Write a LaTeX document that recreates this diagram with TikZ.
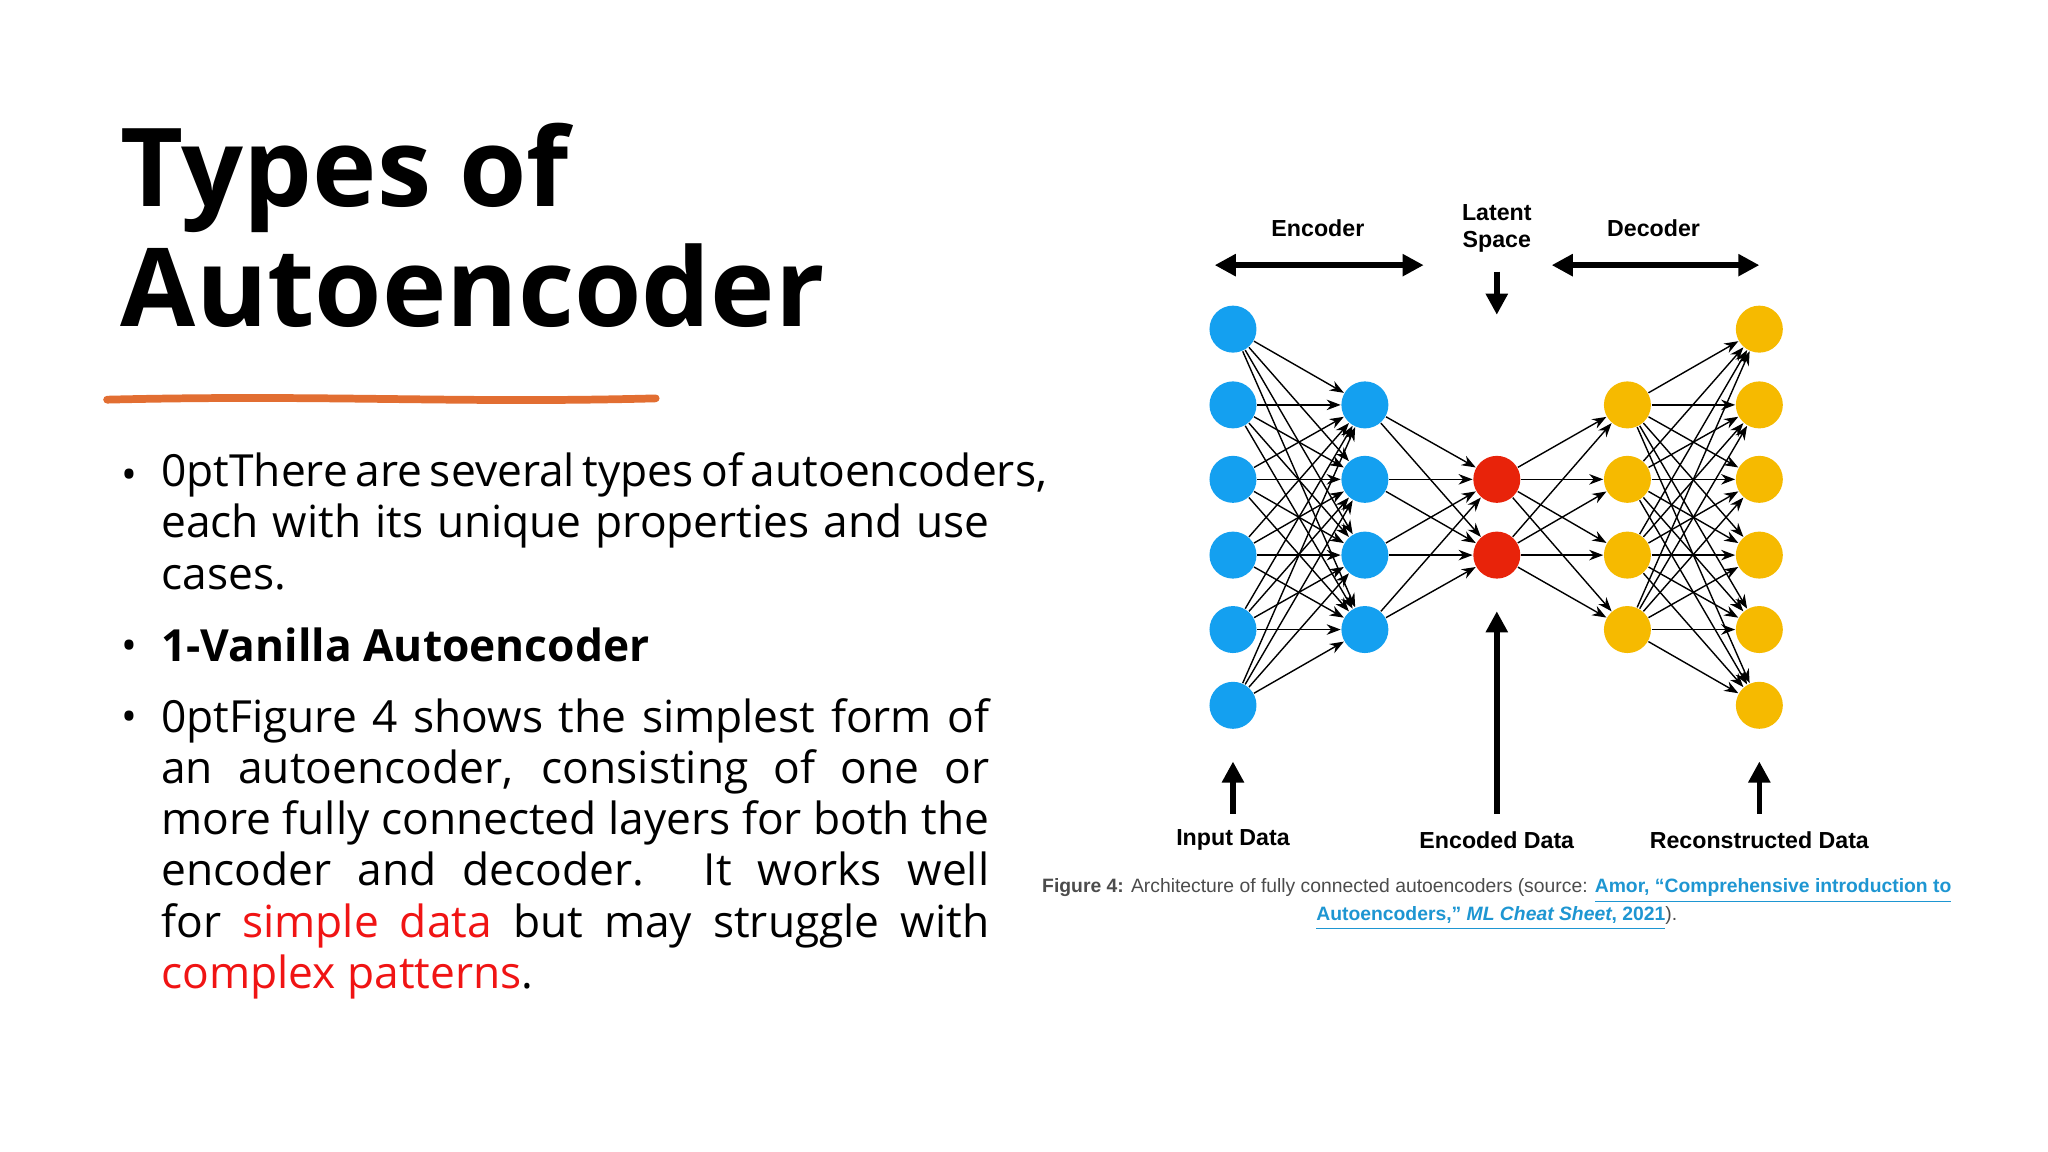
\documentclass[tikz,border=0pt]{standalone}
\usepackage{fontspec}
\setmainfont{Open Sans}
\newfontfamily\capfont{Liberation Sans}
\usetikzlibrary{arrows.meta}
\definecolor{nblue}{RGB}{20,160,240}
\definecolor{nred}{RGB}{232,35,10}
\definecolor{nyel}{RGB}{246,186,0}
\definecolor{orng}{RGB}{226,110,50}
\definecolor{lnk}{RGB}{30,150,210}
\definecolor{txtred}{RGB}{240,20,20}
\begin{document}
\hyphenpenalty=10000 \exhyphenpenalty=10000
\begin{tikzpicture}[x=0.01306cm,y=-0.01306cm,
  neu/.style={circle,inner sep=0pt,minimum size=0.47cm},
  con/.style={-{Stealth[length=4pt,width=3pt]},line width=0.4pt},
  big/.style={-{Triangle[length=6pt,width=6pt]},line width=1.6pt},
  lab/.style={font=\capfont\bfseries\fontsize{6.6}{7.6}\selectfont,align=center},
  body/.style={anchor=north west,text width=8.28cm,inner sep=0pt,align=justify,font=\fontsize{12.6}{14.6}\selectfont\emergencystretch=3em}]
\useasboundingbox (0,0) rectangle (1568,882);
\fill[white] (0,0) rectangle (1568,882);
% title
\node[anchor=north west,inner sep=0pt,font=\bfseries\fontsize{31}{34}\selectfont,align=left] (title) at (92,94) {Types of\\Autoencoder};
\draw[orng,line width=2.2pt,line cap=round] (82,306) .. controls (250,302) and (350,309) .. (502,305);
% bullets
\node[body] (b1) at (123,346) {There are several types of autoencoders, each with its unique properties and use cases.};
\node[body,font=\bfseries\fontsize{12.6}{14.6}\selectfont] (b2) at (123,480) {1-Vanilla Autoencoder};
\node[body] (b3) at (123,534) {Figure 4 shows the simplest form of an autoencoder, consisting of one or more fully connected layers for both the encoder and decoder. It works well for \textcolor{txtred}{simple data} but may struggle with \textcolor{txtred}{complex patterns}.};
\foreach \y/\n in {367/d1,498/d2,552/d3} \node[font=\fontsize{12}{14}\selectfont] (\n) at (99,\y) {•};
% network
\foreach \i/\y in {1/252,2/310,3/367,4/425,5/482,6/540}{
  \node[neu,fill=nblue] (i\i) at (944,\y) {};
  \node[neu,fill=nyel] (o\i) at (1347,\y) {};}
\foreach \i/\y in {1/310,2/367,3/425,4/482}{
  \node[neu,fill=nblue] (e\i) at (1045,\y) {};
  \node[neu,fill=nyel] (d\i) at (1246,\y) {};}
\node[neu,fill=nred] (l1) at (1146,367) {};
\node[neu,fill=nred] (l2) at (1146,425) {};
\foreach \a in {1,...,6}\foreach \b in {1,...,4} \draw[con] (i\a) -- (e\b);
\foreach \a in {1,...,4}\foreach \b in {1,2} \draw[con] (e\a) -- (l\b);
\foreach \a in {1,2}\foreach \b in {1,...,4} \draw[con] (l\a) -- (d\b);
\foreach \a in {1,...,4}\foreach \b in {1,...,6} \draw[con] (d\a) -- (o\b);
% labels
\node[lab] (enc) at (1009,175) {Encoder};
\node[lab] (lat) at (1146,175) {Latent\\Space};
\node[lab] (dec) at (1266,175) {Decoder};
\coordinate (ea) at (930,203); \coordinate (eb) at (1090,203);
\coordinate (da) at (1188,203); \coordinate (db) at (1347,203);
\draw[big,{Triangle[length=6pt,width=6pt]}-{Triangle[length=6pt,width=6pt]}] (ea) -- (eb);
\draw[big,{Triangle[length=6pt,width=6pt]}-{Triangle[length=6pt,width=6pt]}] (da) -- (db);
\coordinate (ls) at (1146,208); \coordinate (la) at (1146,241);
\draw[big] (ls) -- (la);
\node[lab] (inp) at (944,643) {Input Data};
\node[lab] (encd) at (1146,643) {Encoded Data};
\node[lab] (rec) at (1347,643) {Reconstructed Data};
\coordinate (ia) at (944,583); \coordinate (ea2) at (1146,468); \coordinate (ra) at (1347,583);
\draw[big] (944,623) -- (ia);
\draw[big] (1146,623) -- (ea2);
\draw[big] (1347,623) -- (ra);
% caption
\node[anchor=north,inner sep=0pt,align=center,font=\capfont\fontsize{5.5}{8}\selectfont,text=black!70] (cap) at (1146,672)
{\textbf{Figure 4:} Architecture of fully connected autoencoders (source: \textcolor{lnk}{\textbf{\underline{Amor, “Comprehensive introduction to}}}\\
\textcolor{lnk}{\textbf{\underline{Autoencoders,” \textit{ML Cheat Sheet}, 2021}}}).};
\end{tikzpicture}
\end{document}
